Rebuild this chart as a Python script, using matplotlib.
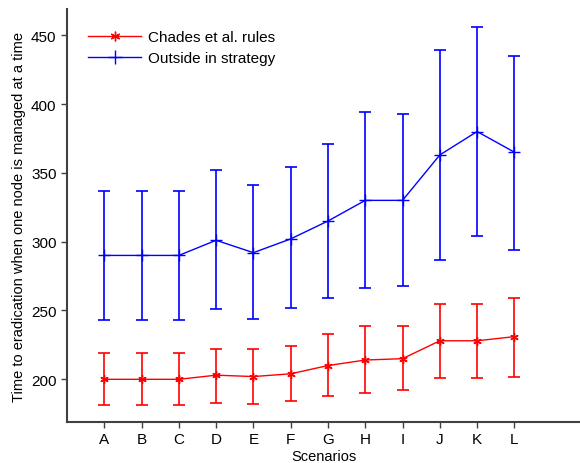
import matplotlib
matplotlib.use("Agg")
import matplotlib.pyplot as plt
from matplotlib.lines import Line2D
import numpy as np

plt.rcParams['font.family'] = ['Liberation Sans', 'DejaVu Sans']

scenarios = ['A', 'B', 'C', 'D', 'E', 'F', 'G', 'H', 'I', 'J', 'K', 'L']

chades_mean = [200, 200, 200, 203, 202, 204, 210, 214, 215, 228, 228, 231]
chades_low = [181, 181, 181, 183, 182, 184, 188, 190, 192, 201, 201, 202]
chades_high = [219, 219, 219, 222, 222, 224, 233, 239, 239, 255, 255, 259]

outside_mean = [290, 290, 290, 301, 292, 302, 315, 330, 330, 363, 380, 365]
outside_low = [243, 243, 243, 251, 244, 252, 259, 266, 268, 287, 304, 294]
outside_high = [337, 337, 337, 352, 341, 354, 371, 394, 393, 439, 456, 435]

fig = plt.figure(figsize=(5.8, 4.64), dpi=100)
ax = fig.add_axes([0.1155, 0.0884, 0.8845, 0.890])

x = np.arange(1, len(scenarios) + 1)
cm = np.array(chades_mean)
om = np.array(outside_mean)

red_marker = (6, 2, 0)
ax.errorbar(x, cm, yerr=[cm - np.array(chades_low), np.array(chades_high) - cm],
            color='#ff0000', marker=red_marker, markersize=6, linewidth=1,
            elinewidth=1.2, capsize=4, capthick=1.2)
ax.errorbar(x, om, yerr=[om - np.array(outside_low), np.array(outside_high) - om],
            color='#0000ff', marker='+', markersize=8, linewidth=1,
            elinewidth=1.2, capsize=4, capthick=1.2)

ax.set_xlim(0, 13.76)
ax.set_ylim(169, 469)
ax.set_xticks(x)
ax.set_xticklabels(scenarios)
ax.set_yticks([200, 250, 300, 350, 400, 450])

for s in ['top', 'right']:
    ax.spines[s].set_visible(False)
for s in ['left', 'bottom']:
    ax.spines[s].set_color('#404040')
    ax.spines[s].set_linewidth(1.5)
ax.tick_params(direction='out', length=4, width=1, color='#404040', labelsize=11)

ax.set_xlabel('Scenarios', fontsize=10.5, labelpad=2)
ax.set_ylabel('Time to eradication when one node is managed at a time', fontsize=10.5, labelpad=4)

handles = [
    Line2D([], [], color='#ff0000', marker=red_marker, markersize=7, linewidth=1),
    Line2D([], [], color='#0000ff', marker='+', markersize=10, linewidth=1),
]
ax.legend(handles, ['Chades et al. rules', 'Outside in strategy'],
          loc='upper left', frameon=False, fontsize=11, handlelength=3.5,
          bbox_to_anchor=(0.02, 0.975), borderaxespad=0.3, labelspacing=0.45,
          handletextpad=0.4)

fig.savefig('out.png', dpi=100)
